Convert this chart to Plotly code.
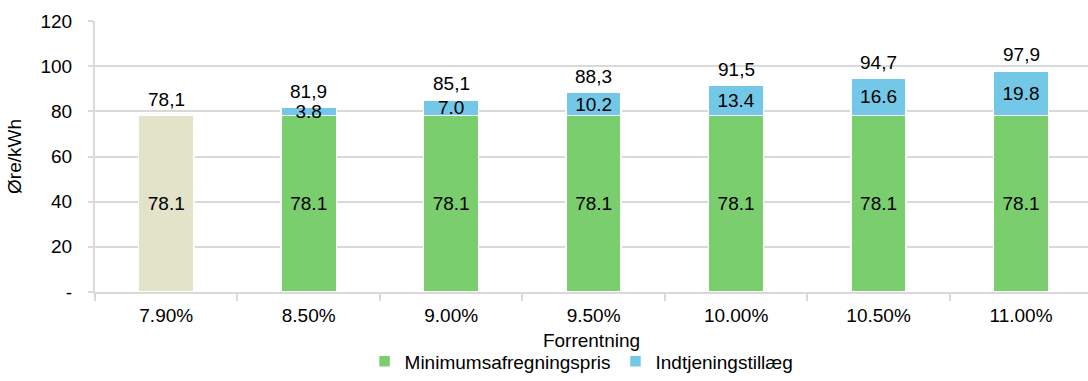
import plotly.graph_objects as go

categories = ['7.90%', '8.50%', '9.00%', '9.50%', '10.00%', '10.50%', '11.00%']
minimum = [None, 78.1, 78.1, 78.1, 78.1, 78.1, 78.1]
baseline = [78.1, None, None, None, None, None, None]
tillaeg = [None, 3.8, 7.0, 10.2, 13.4, 16.6, 19.8]
totals = [78.1, 81.9, 85.1, 88.3, 91.5, 94.7, 97.9]
y_ticks = [0, 20, 40, 60, 80, 100, 120]
y_ticktext = ['-', '20', '40', '60', '80', '100', '120']

FONT = 'Liberation Sans, Arial, sans-serif'
GREEN = '#7ACE6E'
BLUE = '#72C8E6'
BEIGE = '#E3E3C9'
GRID = '#D9D9D9'

def fmt(v, sep='.'):
    return '' if v is None else f'{v:.1f}'.replace('.', sep)

fig = go.Figure()
fig.add_trace(go.Bar(
    x=categories, y=baseline, marker=dict(color=BEIGE, line=dict(color='white', width=1.5)),
    text=[fmt(v) for v in baseline], textposition='inside', insidetextanchor='middle',
    constraintext='none', textfont=dict(size=19, color='black', family=FONT),
    showlegend=False, hoverinfo='skip'))
fig.add_trace(go.Bar(
    x=categories, y=minimum, name='Minimumsafregningspris',
    marker=dict(color=GREEN, line=dict(color='white', width=1.5)),
    text=[fmt(v) for v in minimum], textposition='inside', insidetextanchor='middle',
    constraintext='none', textfont=dict(size=19, color='black', family=FONT)))
fig.add_trace(go.Bar(
    x=categories, y=tillaeg, name='Indtjeningstillæg',
    marker=dict(color=BLUE, line=dict(color='white', width=1.5)),
    text=[fmt(v) for v in tillaeg], textposition='inside', insidetextanchor='middle',
    constraintext='none', textfont=dict(size=19, color='black', family=FONT)))

for c, t in zip(categories, totals):
    fig.add_annotation(x=c, y=t, text=fmt(t, ','), showarrow=False,
                       yanchor='middle', yshift=16,
                       font=dict(size=19, color='black', family=FONT))

fig.update_layout(
    width=1088, height=381,
    margin=dict(l=95, r=0, t=21, b=89),
    barmode='stack', bargap=0.613,
    plot_bgcolor='white', paper_bgcolor='white',
    font=dict(family=FONT, size=19, color='black'),
    legend=dict(orientation='h', x=0.49, xanchor='center', y=-0.326, yanchor='bottom',
                font=dict(size=19), traceorder='normal', itemwidth=30,
                tracegroupgap=0),
    xaxis=dict(
        title=dict(text='Forrentning', font=dict(size=19), standoff=9),
        automargin=False,
        range=[-0.5, 6.47], showline=True, linecolor=GRID, linewidth=2,
        ticks='outside', tickson='boundaries', ticklen=7, tickcolor=GRID, tickwidth=2,
        ticklabelstandoff=5,
        tickfont=dict(size=19), showgrid=False),
    yaxis=dict(
        title=dict(text='Øre/kWh', font=dict(size=19), standoff=14),
        automargin=False,
        range=[0, 120], tickvals=y_ticks, ticktext=y_ticktext,
        showline=True, linecolor=GRID, linewidth=2,
        ticks='outside', ticklen=5, tickcolor=GRID, tickwidth=2,
        ticklabelstandoff=12,
        showgrid=True, gridcolor=GRID, gridwidth=2, zeroline=False,
        tickfont=dict(size=19)),
)

fig.write_html('out.html')
